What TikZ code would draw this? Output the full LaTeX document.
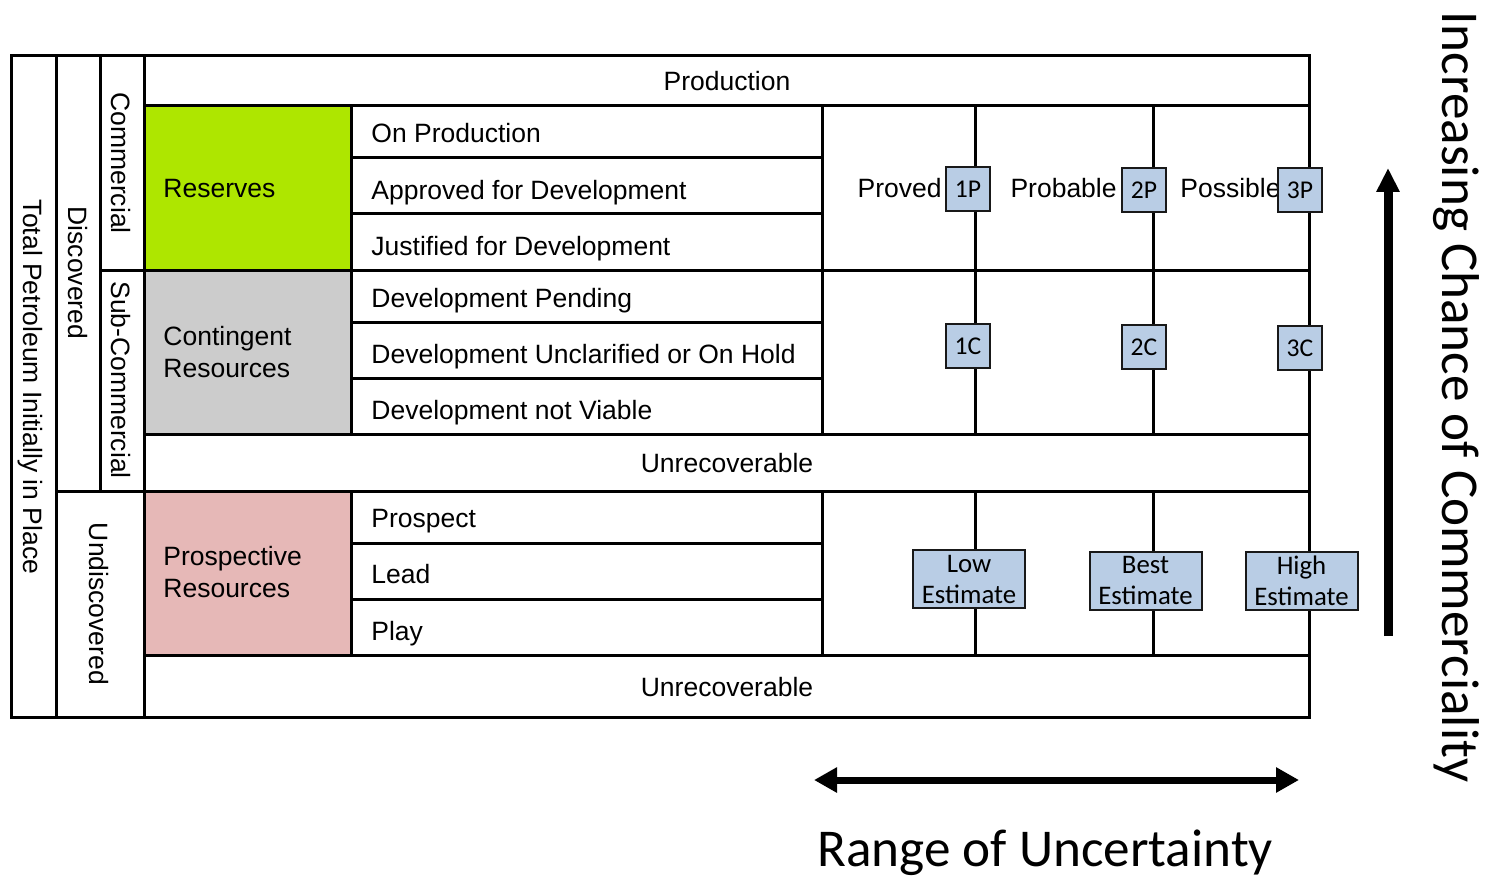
\documentclass[tikz,border=0pt]{standalone}
\usepackage{fontspec}
\setmainfont{Liberation Sans}
\newfontfamily\carl{Carlito}
\usetikzlibrary{arrows.meta}
\definecolor{resgreen}{HTML}{AEE600}
\definecolor{congray}{HTML}{CCCCCC}
\definecolor{prospink}{HTML}{E6B8B7}
\definecolor{boxblue}{HTML}{B9CDE5}
\begin{document}
\begin{tikzpicture}[x=0.5pt,y=-0.5pt,
  grid/.style={line width=1.5pt, line cap=rect},
  lbl/.style={font=\fontsize{13.25}{16}\selectfont, inner sep=0pt},
  rowlbl/.style={lbl, anchor=base west},
  vlbl/.style={lbl, rotate=-90, anchor=base},
  catbox/.style={draw=black!90, line width=1pt, fill=boxblue, font=\carl\fontsize{12.8}{14.5}\selectfont, inner sep=0pt, minimum width=22pt, minimum height=22pt},
  estbox/.style={catbox, font=\carl\fontsize{13.4}{15.5}\selectfont, minimum width=56pt, minimum height=29pt, align=center},
  bigtxt/.style={font=\carl\fontsize{26.6}{30}\selectfont, inner sep=0pt}
]
\useasboundingbox (0,0) rectangle (1486,877);

% coloured cells
\fill[resgreen] (144,106) rectangle (351,270);
\fill[congray] (144,270) rectangle (351,434);
\fill[prospink] (144,491) rectangle (351,655);

% table grid
\draw[grid] (11,56) rectangle (1309,717);
\draw[grid] (56,56) -- (56,717);
\draw[grid] (100,56) -- (100,491);
\draw[grid] (144,56) -- (144,717);
\draw[grid] (144,106) -- (1309,106);
\draw[grid] (100,270) -- (1309,270);
\draw[grid] (144,434) -- (1309,434);
\draw[grid] (56,491) -- (1309,491);
\draw[grid] (144,655) -- (1309,655);
\draw[grid] (351,106) -- (351,434);
\draw[grid] (351,491) -- (351,655);
\draw[grid] (822,106) -- (822,434);
\draw[grid] (822,491) -- (822,655);
\foreach \yy in {158,214,322,378,543,599}
  \draw[grid] (351,\yy) -- (822,\yy);
\foreach \xx in {975,1153}{
  \draw[grid] (\xx,106) -- (\xx,434);
  \draw[grid] (\xx,491) -- (\xx,655);
}

% vertical labels
\node[vlbl] (tpiip) at (23,387) {Total Petroleum Initially in Place};
\node[vlbl] (disc) at (68,273) {Discovered};
\node[vlbl] (undisc) at (89,604) {Undiscovered};
\node[vlbl] (comm) at (111,163) {Commercial};
\node[vlbl] (subcomm) at (111,380) {Sub-Commercial};

% category labels
\node[lbl] (prod) at (727,81) {Production};
\node[rowlbl] (res) at (163,198) {Reserves};
\node[lbl, anchor=west, align=left] (cont) at (163,352.5) {Contingent\\Resources};
\node[lbl, anchor=west, align=left] (pros) at (163,572.5) {Prospective\\Resources};
\node[lbl] (unrec1) at (727,463) {Unrecoverable};
\node[lbl] (unrec2) at (727,687) {Unrecoverable};

% project maturity rows
\node[rowlbl] (onprod) at (371,143) {On Production};
\node[rowlbl] (approved) at (371,199) {Approved for Development};
\node[rowlbl] (justified) at (371,255) {Justified for Development};
\node[rowlbl] (pending) at (371,307) {Development Pending};
\node[rowlbl] (unclar) at (371,363) {Development Unclarified or On Hold};
\node[rowlbl] (notviable) at (371,419) {Development not Viable};
\node[rowlbl] (prospect) at (371,527) {Prospect};
\node[rowlbl] (lead) at (371,583) {Lead};
\node[rowlbl] (play) at (371,640) {Play};

% reserve labels
\node[lbl, anchor=base east] (proved) at (942,198) {Proved};
\node[lbl, anchor=base east] (probable) at (1117,198) {Probable};
\node[lbl, anchor=base east] (possible) at (1281,198) {Possible};

% category boxes
\node[catbox] (p1) at (968,189) {1P};
\node[catbox] (p2) at (1144,190) {2P};
\node[catbox] (p3) at (1300,190) {3P};
\node[catbox] (c1) at (968,346) {1C};
\node[catbox] (c2) at (1144,347) {2C};
\node[catbox] (c3) at (1300,348) {3C};
\node[estbox] (low) at (969,579) {Low\\Estimate};
\node[estbox] (best) at (1145.5,580.5) {Best\\Estimate};
\node[estbox] (high) at (1301.5,580.5) {High\\Estimate};

% axes
\coordinate (va1) at (1388,636);
\coordinate (va2) at (1388,168);
\draw[line width=4.5pt, -{Triangle[length=12pt,width=11pt]}] (va1) -- (va2);
\coordinate (ha1) at (814,780);
\coordinate (ha2) at (1299,780);
\draw[line width=3.5pt, {Triangle[length=11.5pt,width=12pt]}-{Triangle[length=11.5pt,width=12pt]}] (ha1) -- (ha2);

\node[bigtxt, rotate=-90, anchor=base west] (incr) at (1442,11) {Increasing Chance of Commerciality};
\node[bigtxt, anchor=base west] (range) at (817,866) {Range of Uncertainty};
\end{tikzpicture}
\end{document}
